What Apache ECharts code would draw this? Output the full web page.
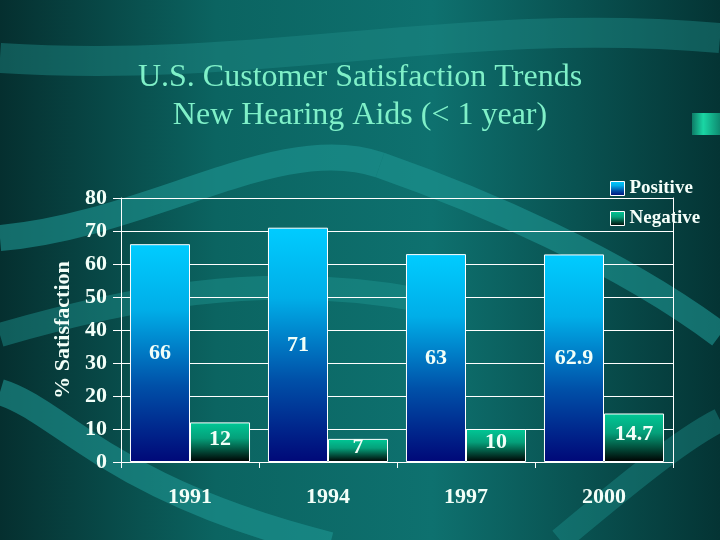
<!DOCTYPE html>
<html>
<head>
<meta charset="utf-8">
<script src="https://cdn.jsdelivr.net/npm/echarts@6/dist/echarts.min.js"></script>
<style>
html,body{margin:0;padding:0;background:#0b5e5c;}
#chart{width:720px;height:540px;}
</style>
</head>
<body>
<div id="chart"></div>
<script>
const categories = ['1991', '1994', '1997', '2000'];
const positiveValues = [66, 71, 63, 62.9];
const negativeValues = [12, 7, 10, 14.7];
const yTicks = { min: 0, max: 80, interval: 10 };
const titleLines = ['U.S. Customer Satisfaction Trends', 'New Hearing Aids (< 1 year)'];
const seriesNames = ['Positive', 'Negative'];
const yAxisName = '% Satisfaction';

const serif = '"Liberation Serif", "Times New Roman", serif';
const labelColor = '#f2fff8';

const posGrad = new echarts.graphic.LinearGradient(0, 0, 0, 1, [
  { offset: 0, color: '#00ccff' },
  { offset: 0.3, color: '#00aee8' },
  { offset: 0.65, color: '#0050a8' },
  { offset: 1, color: '#000878' }
]);
const negGrad = new echarts.graphic.LinearGradient(0, 0, 0, 1, [
  { offset: 0, color: '#00c896' },
  { offset: 0.4, color: '#05a07a' },
  { offset: 1, color: '#000000' }
]);

const bandColor = 'rgba(30,150,146,0.6)';
const chart = echarts.init(document.getElementById('chart'), null, { renderer: 'canvas' });
chart.setOption({
  animation: false,
  backgroundColor: new echarts.graphic.LinearGradient(0, 0, 1, 0, [
    { offset: 0, color: '#052f2f' },
    { offset: 0.3, color: '#0b6461' },
    { offset: 0.6, color: '#0e716f' },
    { offset: 1, color: '#043434' }
  ]),
  graphic: [
    { type: 'bezierCurve', z: -10, silent: true,
      shape: { x1: 0, y1: 58, x2: 720, y2: 38, cpx1: 260, cpy1: 75, cpx2: 460, cpy2: 15 },
      style: { stroke: 'rgba(30,140,136,0.45)', lineWidth: 30, fill: null } },
    { type: 'bezierCurve', z: -10, silent: true,
      shape: { x1: 0, y1: 238, x2: 380, y2: 165, cpx1: 150, cpy1: 225, cpx2: 280, cpy2: 130 },
      style: { stroke: bandColor, lineWidth: 26, fill: null } },
    { type: 'bezierCurve', z: -10, silent: true,
      shape: { x1: 380, y1: 165, x2: 720, y2: 335, cpx1: 480, cpy1: 200, cpx2: 620, cpy2: 260 },
      style: { stroke: bandColor, lineWidth: 26, fill: null } },
    { type: 'bezierCurve', z: -10, silent: true,
      shape: { x1: 0, y1: 335, x2: 420, y2: 300, cpx1: 120, cpy1: 300, cpx2: 260, cpy2: 270 },
      style: { stroke: 'rgba(30,150,146,0.45)', lineWidth: 24, fill: null } },
    { type: 'bezierCurve', z: -10, silent: true,
      shape: { x1: 0, y1: 392, x2: 330, y2: 545, cpx1: 60, cpy1: 410, cpx2: 110, cpy2: 490 },
      style: { stroke: bandColor, lineWidth: 26, fill: null } },
    { type: 'bezierCurve', z: -10, silent: true,
      shape: { x1: 560, y1: 540, x2: 720, y2: 420, cpx1: 620, cpy1: 490, cpx2: 680, cpy2: 440 },
      style: { stroke: 'rgba(30,150,146,0.4)', lineWidth: 24, fill: null } },
    { type: 'rect', z: -9, silent: true,
      shape: { x: 692, y: 113, width: 28, height: 22 },
      style: { fill: new echarts.graphic.LinearGradient(0, 0, 1, 0, [
        { offset: 0, color: '#0e7a66' }, { offset: 0.4, color: '#1ad6a4' }, { offset: 1, color: '#0e8a70' }]) } }
  ],
  title: {
    text: titleLines.join('\n'),
    left: 'center',
    top: 54,
    textStyle: {
      fontFamily: serif, fontWeight: 'normal', fontSize: 32,
      color: '#7ff0c8', lineHeight: 38
    }
  },
  legend: {
    orient: 'vertical',
    left: 605,
    top: 174,
    icon: 'rect',
    itemWidth: 14,
    itemHeight: 14,
    itemGap: 11,
    textStyle: { fontFamily: serif, fontWeight: 'bold', fontSize: 19, color: '#f5fffa' },
    itemStyle: { borderColor: '#ffffff', borderWidth: 1 },
    data: seriesNames
  },
  grid: { left: 121, right: 47, top: 198, bottom: 78, containLabel: false },
  xAxis: {
    type: 'category',
    data: categories,
    axisLine: { lineStyle: { color: '#ffffff', width: 1 } },
    axisTick: { show: true, length: 6, lineStyle: { color: '#ffffff' } },
    axisLabel: { fontFamily: serif, fontWeight: 'bold', fontSize: 22, color: '#f2fff8', margin: 24 },
    splitLine: { show: false }
  },
  yAxis: [{
    type: 'value',
    min: yTicks.min, max: yTicks.max, interval: yTicks.interval,
    name: yAxisName,
    nameLocation: 'middle',
    nameRotate: 90,
    nameGap: 44,
    nameTextStyle: { fontFamily: serif, fontWeight: 'bold', fontSize: 22, color: '#f2fff8' },
    axisLine: { show: true, lineStyle: { color: '#ffffff', width: 1 } },
    axisTick: { show: true, length: 8, lineStyle: { color: '#ffffff' } },
    axisLabel: { fontFamily: serif, fontWeight: 'bold', fontSize: 22, color: '#f2fff8', margin: 14 },
    splitLine: { show: true, lineStyle: { color: '#ffffff', width: 1 } }
  }, {
    type: 'value',
    position: 'right',
    min: yTicks.min, max: yTicks.max, interval: yTicks.interval,
    axisLine: { show: true, lineStyle: { color: '#ffffff', width: 1 } },
    axisTick: { show: false },
    axisLabel: { show: false },
    splitLine: { show: false }
  }],
  series: [{
    name: seriesNames[0],
    type: 'bar',
    data: positiveValues,
    barGap: '0%',
    barCategoryGap: '13%',
    itemStyle: { color: posGrad, borderColor: '#ffffff', borderWidth: 1 },
    label: { show: true, position: 'inside', fontFamily: serif, fontWeight: 'bold', fontSize: 22, color: labelColor }
  }, {
    name: seriesNames[1],
    type: 'bar',
    data: negativeValues,
    barGap: '0%',
    barCategoryGap: '13%',
    itemStyle: { color: negGrad, borderColor: '#ffffff', borderWidth: 1 },
    label: { show: true, position: 'inside', offset: [0, -3], fontFamily: serif, fontWeight: 'bold', fontSize: 22, color: labelColor }
  }]
});
</script>
</body>
</html>
